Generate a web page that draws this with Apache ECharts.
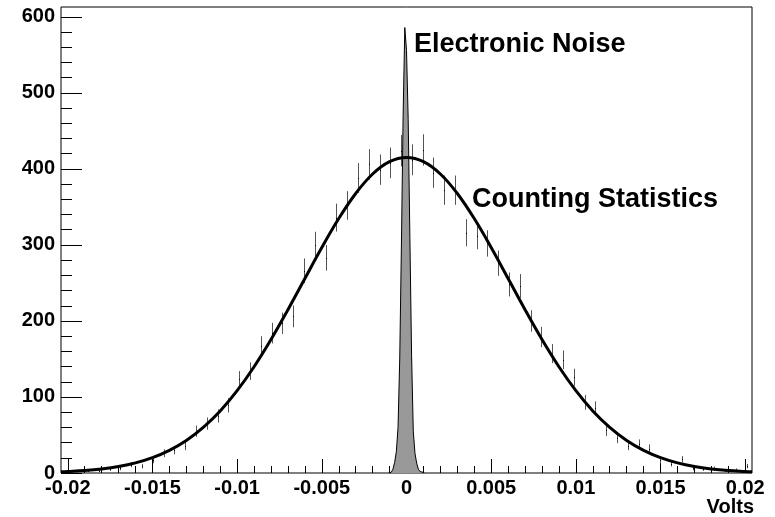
<!DOCTYPE html>
<html><head><meta charset="utf-8">
<script src="https://cdn.jsdelivr.net/npm/echarts@6/dist/echarts.min.js"></script>
<style>html,body{margin:0;padding:0;background:#fff}#c{width:775px;height:517px}</style>
</head><body><div id="c"></div>
<script>
// Counting-statistics histogram: bin centres (Volts) and counts
const binCenters = [
 -0.020081,-0.019444,-0.018806,-0.018169,-0.017531,-0.016894,-0.016256,-0.015619,
 -0.014981,-0.014344,-0.013706,-0.013069,-0.012431,-0.011794,-0.011156,-0.010519,
 -0.009881,-0.009244,-0.008606,-0.007969,-0.007331,-0.006694,-0.006056,-0.005419,
 -0.004781,-0.004144,-0.003506,-0.002869,-0.002231,-0.001594,-0.000956,-0.000319,
  0.000319, 0.000956, 0.001594, 0.002231, 0.002869, 0.003506, 0.004144, 0.004781,
  0.005419, 0.006056, 0.006694, 0.007331, 0.007969, 0.008606, 0.009244, 0.009881,
  0.010519, 0.011156, 0.011794, 0.012431, 0.013069, 0.013706, 0.014344, 0.014981,
  0.015619, 0.016256, 0.016894, 0.017531, 0.018169, 0.018806, 0.019444, 0.020081];
const counts = [
  1, 2, 3, 3, 5, 6, 11, 9,
  17, 26, 30, 36, 55, 65, 75, 89,
  123, 134, 167, 184, 197, 206, 266, 300,
  283, 336, 352, 388, 406, 399, 408, 424,
  412, 425, 395, 372, 372, 316, 312, 302,
  276, 248, 246, 200, 179, 157, 149, 126,
  93, 85, 56, 46, 36, 38, 32, 17,
  12, 18, 6, 5, 6, 3, 4, 9];

// Electronic-noise histogram (fine bins), padded with empty bins
const noiseX = [-0.00105,-0.00095,-0.00085,-0.00075,-0.00065,-0.00055,-0.00045,-0.00035,-0.00025,-0.00015,-0.00005,
                 0.00005, 0.00015, 0.00025, 0.00035, 0.00045, 0.00055, 0.00065, 0.00075, 0.00085, 0.00095, 0.00105];
const noiseY = [0, 1, 2, 5, 14, 28, 60, 150, 300, 470, 586,
                556, 465, 310, 155, 55, 26, 13, 5, 2, 1, 0];

// Gaussian fit curve
const fitX = [-0.0204,-0.020,-0.019,-0.018,-0.017,-0.016,-0.015,-0.014,-0.013,-0.012,-0.011,
              -0.010,-0.009,-0.008,-0.007,-0.006,-0.005,-0.004,-0.003,-0.002,-0.001,0,
               0.001,0.002,0.003,0.004,0.005,0.006,0.007,0.008,0.009,0.010,
               0.011,0.012,0.013,0.014,0.015,0.016,0.017,0.018,0.019,0.020,0.0204];
const fitY = [1.5,1.9,3.2,5.3,8.5,13.3,20.2,29.8,42.8,60.0,81.6,
              108.3,139.8,175.6,214.8,255.8,296.6,334.7,367.7,393.3,409.5,415,
              409.5,393.3,367.7,334.7,296.6,255.8,214.8,175.6,139.8,108.3,
              81.6,60.0,42.8,29.8,20.2,13.3,8.5,5.3,3.2,1.9,1.5];

// Axis ticks
const xTickValues = [-0.02,-0.015,-0.01,-0.005,0,0.005,0.01,0.015,0.02];
const xTickLabels = ['-0.02','-0.015','-0.01','-0.005','0','0.005','0.01','0.015','0.02'];
const xMinorValues = [-0.019,-0.018,-0.017,-0.016,-0.014,-0.013,-0.012,-0.011,-0.009,-0.008,-0.007,-0.006,
                      -0.004,-0.003,-0.002,-0.001,0.001,0.002,0.003,0.004,0.006,0.007,0.008,0.009,
                      0.011,0.012,0.013,0.014,0.016,0.017,0.018,0.019];
const yTickValues = [0,100,200,300,400,500,600];
const yTickLabels = ['0','100','200','300','400','500','600'];
const yMinorValues = [20,40,60,80,120,140,160,180,220,240,260,280,320,340,360,380,
                      420,440,460,480,520,540,560,580];

const FONT = '"Liberation Sans", Arial, Helvetica, sans-serif';
const X_MIN = -0.0204, X_MAX = 0.0204, Y_MIN = 0, Y_MAX = 613;

function nearestLabel(v, vals, labels) {
  let best = 0;
  for (let i = 1; i < vals.length; i++) if (Math.abs(vals[i]-v) < Math.abs(vals[best]-v)) best = i;
  return labels[best];
}

const chart = echarts.init(document.getElementById('c'), null, {renderer: 'canvas'});
const labelStyle = {color: '#000', fontFamily: FONT, fontWeight: 'bold', fontSize: 20};
const noLine = {show: false, onZero: false};

chart.setOption({
  animation: false,
  backgroundColor: '#fff',
  grid: {left: 61, top: 7, right: 23, bottom: 44, show: true, borderColor: '#000', borderWidth: 1, backgroundColor: 'transparent'},
  xAxis: [{
    type: 'value', min: X_MIN, max: X_MAX, position: 'bottom',
    axisLine: noLine, splitLine: {show: false},
    axisTick: {show: true, inside: true, length: 14, customValues: xTickValues, lineStyle: {color: '#000', width: 1}},
    axisLabel: Object.assign({customValues: xTickValues, margin: 5,
      formatter: v => nearestLabel(v, xTickValues, xTickLabels)}, labelStyle)
  }, {
    type: 'value', min: X_MIN, max: X_MAX, position: 'bottom',
    axisLine: noLine, splitLine: {show: false}, axisLabel: {show: false},
    axisTick: {show: true, inside: true, length: 7, customValues: xMinorValues, lineStyle: {color: '#000', width: 1}}
  }],
  yAxis: [{
    type: 'value', min: Y_MIN, max: Y_MAX, position: 'left',
    axisLine: noLine, splitLine: {show: false},
    axisTick: {show: true, inside: true, length: 21, customValues: yTickValues, lineStyle: {color: '#000', width: 1}},
    axisLabel: Object.assign({customValues: yTickValues, margin: 6,
      formatter: v => nearestLabel(v, yTickValues, yTickLabels)}, labelStyle)
  }, {
    type: 'value', min: Y_MIN, max: Y_MAX, position: 'left',
    axisLine: noLine, splitLine: {show: false}, axisLabel: {show: false},
    axisTick: {show: true, inside: true, length: 11, customValues: yMinorValues, lineStyle: {color: '#000', width: 1}}
  }],
  series: [{
    name: 'Electronic Noise', type: 'line', step: 'middle', symbol: 'none',
    xAxisIndex: 0, yAxisIndex: 0, z: 2,
    data: noiseX.map((x, i) => [x, noiseY[i]]),
    lineStyle: {color: '#000', width: 1},
    areaStyle: {color: '#999', opacity: 1}
  }, {
    name: 'Counting Statistics', type: 'custom', xAxisIndex: 0, yAxisIndex: 0, z: 3,
    data: binCenters.map((x, i) => [x, counts[i]]),
    renderItem: (params, api) => {
      const x = api.value(0), v = api.value(1), e = Math.sqrt(v);
      const top = api.coord([x, v + e]), bot = api.coord([x, Math.max(0, v - e)]), c = api.coord([x, v]);
      const px = Math.round(top[0]) + 0.5;
      return {type: 'group', children: [
        {type: 'line', shape: {x1: px, y1: top[1], x2: px, y2: bot[1]}, style: {stroke: '#555', lineWidth: 1}},
        {type: 'rect', shape: {x: px - 0.5, y: Math.round(c[1]), width: 1, height: 1}, style: {fill: '#000'}}
      ]};
    }
  }, {
    name: 'Fit', type: 'line', smooth: 0.4, symbol: 'none', xAxisIndex: 0, yAxisIndex: 0, z: 4,
    data: fitX.map((x, i) => [x, fitY[i]]),
    lineStyle: {color: '#000', width: 3}
  }],
  graphic: [
    {type: 'text', left: 414, top: 31, style: {text: 'Electronic Noise', font: 'bold 27px ' + FONT, fill: '#000'}},
    {type: 'text', left: 472, top: 186, style: {text: 'Counting Statistics', font: 'bold 27px ' + FONT, fill: '#000'}},
    {type: 'text', right: 21, top: 497, style: {text: 'Volts', font: 'bold 20px ' + FONT, fill: '#000'}}
  ]
});
</script>
</body></html>
